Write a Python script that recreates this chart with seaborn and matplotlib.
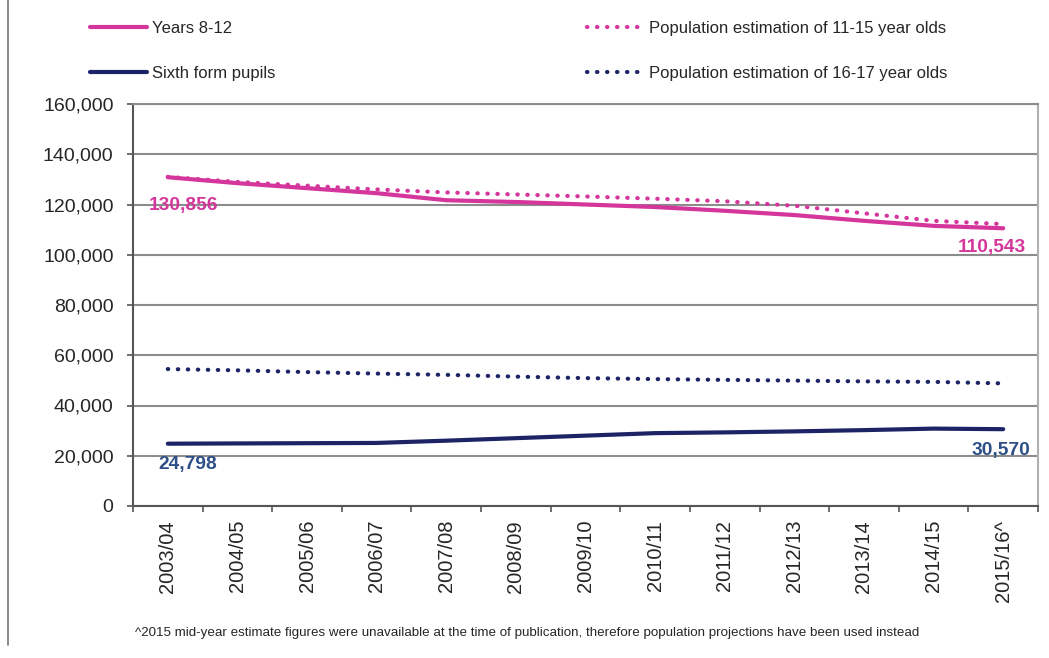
import pandas as pd
import matplotlib
matplotlib.use("Agg")
from matplotlib import pyplot as plt
from matplotlib.lines import Line2D
from matplotlib.ticker import FuncFormatter, FixedLocator
import seaborn as sns

years = ["2003/04", "2004/05", "2005/06", "2006/07", "2007/08", "2008/09", "2009/10",
         "2010/11", "2011/12", "2012/13", "2013/14", "2014/15", "2015/16^"]
years_8_12 = [130856, 128500, 126500, 124500, 121700, 121000, 120000,
              119000, 117500, 115800, 113500, 111500, 110543]
pop_11_15 = [131000, 129000, 127500, 126000, 124800, 124000, 123200,
             122300, 121300, 119500, 116500, 113500, 112200]
sixth_form = [24798, 24900, 25000, 25100, 26000, 27000, 28000,
              29000, 29300, 29700, 30200, 30800, 30570]
pop_16_17 = [54500, 54000, 53300, 52700, 52200, 51500, 50900,
             50500, 50200, 49900, 49600, 49400, 48800]

PINK = "#D4369C"
NAVY = "#1C2466"
NAVY_LBL = "#2D4F86"

sns.set_style("white")
plt.rcParams['font.family'] = ['Liberation Sans', 'DejaVu Sans']

df = pd.DataFrame({
    "pos": list(range(len(years))),
    "Years 8-12": years_8_12,
    "Population estimation of 11-15 year olds": pop_11_15,
    "Sixth form pupils": sixth_form,
    "Population estimation of 16-17 year olds": pop_16_17,
})

fig = plt.figure(figsize=(10.49, 6.58), dpi=100)
ax = fig.add_axes([133 / 1049, 1 - 506 / 658, (1038 - 133) / 1049, (506 - 104) / 658])

dot = (0, (0.1, 2.3))
styles = {
    "Years 8-12": (PINK, "-"),
    "Population estimation of 11-15 year olds": (PINK, dot),
    "Sixth form pupils": (NAVY, "-"),
    "Population estimation of 16-17 year olds": (NAVY, dot),
}
for name, (col, ls) in styles.items():
    sns.lineplot(data=df, x="pos", y=name, ax=ax, color=col, linestyle=ls,
                 linewidth=3, dash_capstyle="round", label=name, legend=False)

ax.set_xlim(-0.5, len(years) - 0.5)
ax.set_ylim(0, 160000)
ax.set_yticks(range(0, 160001, 20000))
ax.yaxis.set_major_formatter(FuncFormatter(lambda v, p: f"{int(v):,}"))
ax.set_xticks(range(len(years)))
ax.set_xticklabels(years, rotation=90)
ax.xaxis.set_minor_locator(FixedLocator([i - 0.5 for i in range(len(years) + 1)]))
ax.tick_params(axis="x", which="major", length=0, pad=10, labelsize=14.5)
ax.tick_params(axis="x", which="minor", length=4.5, width=1.2, color="#555555", bottom=True)
ax.tick_params(axis="y", length=4.5, width=1.2, color="#555555", pad=9.5, labelsize=14, left=True)
ax.set_xlabel("")
ax.set_ylabel("")
ax.grid(axis="y", color="#8c8c8c", linewidth=1.5)
ax.set_axisbelow(True)
for s in ["left", "bottom"]:
    ax.spines[s].set_color("#555555")
    ax.spines[s].set_linewidth(1.5)
ax.spines["right"].set_color("#b0b0b0")
ax.spines["right"].set_linewidth(1.5)
ax.spines["top"].set_color("#8c8c8c")
ax.spines["top"].set_linewidth(1.5)

lbl = dict(fontsize=13.8, fontweight="bold", ha="center", va="center", textcoords="offset points")
ax.annotate(f"{years_8_12[0]:,}", (0, years_8_12[0]), xytext=(11, -20), color=PINK, **lbl)
ax.annotate(f"{years_8_12[-1]:,}", (12, years_8_12[-1]), xytext=(-8, -14), color=PINK, **lbl)
ax.annotate(f"{sixth_form[0]:,}", (0, sixth_form[0]), xytext=(14, -15), color=NAVY_LBL, **lbl)
ax.annotate(f"{sixth_form[-1]:,}", (12, sixth_form[-1]), xytext=(-2, -15), color=NAVY_LBL, **lbl)

handles = {l.get_label(): l for l in ax.get_lines()}
solid = ["Years 8-12", "Sixth form pupils"]
dotted = ["Population estimation of 11-15 year olds", "Population estimation of 16-17 year olds"]
leg_kw = dict(frameon=False, fontsize=12, handlelength=3.4, handletextpad=0.3,
              labelspacing=1.8, borderpad=0, borderaxespad=0, loc="upper left")
fig.legend([handles[n] for n in solid], solid, bbox_to_anchor=(90 / 1049, 1 - 21 / 658), **leg_kw)
fig.legend([handles[n] for n in dotted], dotted, bbox_to_anchor=(587 / 1049, 1 - 21 / 658), **leg_kw)

fig.text(135 / 1049, 1 - 633 / 658,
         "^2015 mid-year estimate figures were unavailable at the time of publication, "
         "therefore population projections have been used instead",
         fontsize=9.65, va="center", ha="left")

fig.add_artist(Line2D([8 / 1049, 8 / 1049], [1 - 645 / 658, 1], color="#777777", linewidth=1.2))

plt.savefig("out.png", dpi=100)
